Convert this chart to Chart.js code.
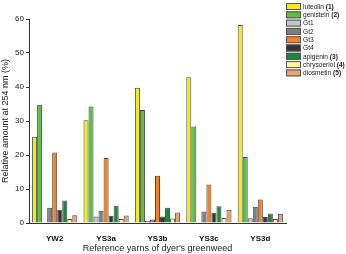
<!DOCTYPE html>
<html>
<head>
<meta charset="utf-8">
<script src="https://cdn.jsdelivr.net/npm/chart.js@4"></script>
<style>
  html, body { margin: 0; padding: 0; background: #fff; }
  #wrap { width: 346px; height: 254px; }
</style>
</head>
<body>
<div id="wrap"><canvas id="myChart" width="346" height="254"></canvas></div>
<script>
'use strict';

// Datos del gráfico
const yarns = ['YW2', 'YS3a', 'YS3b', 'YS3c', 'YS3d'];
const compounds = ['luteolin (1)', 'genistein (2)', 'Gt1', 'Gt2', 'Gt3', 'Gt4', 'apigenin (3)', 'chrysoeriol (4)', 'diosmetin (5)'];
const luteolin = [25.4, 30.2, 39.8, 42.9, 58.2];
const genistein = [34.8, 34.3, 33.2, 28.4, 19.4];
const gt1 = [0, 1.9, 0.6, 0, 1.4];
const gt2 = [4.5, 3.6, 1.0, 3.4, 4.8];
const gt3 = [20.7, 19.1, 13.9, 11.3, 6.9];
const gt4 = [3.9, 2.1, 1.9, 3.0, 1.8];
const apigenin = [6.6, 5.1, 4.5, 4.9, 2.8];
const chrysoeriol = [1.2, 1.2, 1.3, 1.5, 1.2];
const diosmetin = [2.3, 2.2, 3.1, 3.9, 2.7];
const yTicks = [0, 10, 20, 30, 40, 50, 60];

const seriesValues = [luteolin, genistein, gt1, gt2, gt3, gt4, apigenin, chrysoeriol, diosmetin];
const colors = ['#f2ea1f', '#5cbd47', '#c4c4c4', '#7f7f7f', '#f5821f', '#333333', '#17873a', '#fdf59a', '#e2a274'];

const font = 'Arial, "Liberation Sans", sans-serif';

// Leyenda propia, dibujada a la derecha arriba
const legendPlugin = {
  id: 'sideLegend',
  afterDraw(chart) {
    const ctx = chart.ctx;
    const x0 = 286, y0 = 3, rowH = 8.3;
    ctx.save();
    ctx.textBaseline = 'middle';
    chart.data.datasets.forEach((ds, i) => {
      const y = y0 + i * rowH;
      ctx.fillStyle = ds.backgroundColor;
      ctx.fillRect(x0, y, 15, 7);
      ctx.strokeStyle = '#555';
      ctx.lineWidth = 1;
      ctx.strokeRect(x0 + 0.5, y + 0.5, 14, 6);
      ctx.fillStyle = '#222';
      // el número entre paréntesis va en negrita
      const m = ds.label.match(/^(.*?)(\(\d\))?$/);
      ctx.font = '6.6px ' + font;
      ctx.fillText(m[1], x0 + 17, y + 4);
      if (m[2]) {
        const w = ctx.measureText(m[1]).width;
        ctx.font = 'bold 6.6px ' + font;
        ctx.fillText(m[2], x0 + 17 + w, y + 4);
      }
    });
    ctx.restore();
  }
};

const canvas = document.getElementById('myChart');
const myChart = new Chart(canvas, {
  type: 'bar',
  data: {
    labels: yarns,
    datasets: compounds.map((name, i) => ({
      label: name,
      data: seriesValues[i],
      backgroundColor: colors[i],
      borderColor: '#4a4a4a',
      borderWidth: 1,
      borderSkipped: 'bottom',
      categoryPercentage: 0.88,
      barPercentage: 1,
    })),
  },
  options: {
    responsive: false,
    animation: false,
    layout: { padding: { top: 19, right: 60, left: 0, bottom: 0 } },
    plugins: {
      legend: { display: false },
      tooltip: { enabled: false },
    },
    scales: {
      x: {
        grid: { display: false },
        border: { color: '#333', width: 1 },
        ticks: { color: '#111', font: { family: font, size: 8, weight: 'bold' }, padding: 3 },
        title: {
          display: true,
          text: "Reference yarns of dyer's greenweed",
          color: '#222',
          font: { family: font, size: 9 },
          padding: { top: 2, bottom: 0 },
        },
        afterFit(scale) { scale.height = 31; },
      },
      y: {
        min: 0,
        max: 60,
        afterBuildTicks(scale) { scale.ticks = yTicks.map(v => ({ value: v })); },
        grid: { drawOnChartArea: false, tickLength: 3, color: '#333' },
        border: { color: '#333', width: 1 },
        ticks: { color: '#222', font: { family: font, size: 8 }, padding: 2 },
        title: {
          display: true,
          text: 'Relative amount at 254 nm (%)',
          color: '#222',
          font: { family: font, size: 9 },
          padding: { top: 0, bottom: 2 },
        },
        afterFit(scale) { scale.width = 29; },
      },
    },
  },
  plugins: [legendPlugin],
});
</script>
</body>
</html>
